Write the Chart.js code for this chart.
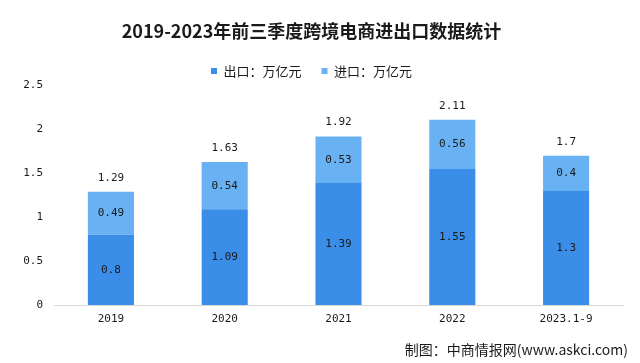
<!DOCTYPE html>
<html>
<head>
<meta charset="utf-8">
<script src="https://cdn.jsdelivr.net/npm/chart.js@4/dist/chart.umd.min.js"></script>
<style>
  html, body { margin: 0; padding: 0; background: #fff; }
  canvas { display: block; }
</style>
</head>
<body>
<canvas id="tradeChart" width="640" height="363"></canvas>
<script>
const years = ['2019', '2020', '2021', '2022', '2023.1-9'];
const exportVals = [0.8, 1.09, 1.39, 1.55, 1.3];
const importVals = [0.49, 0.54, 0.53, 0.56, 0.4];
const totals = [1.29, 1.63, 1.92, 2.11, 1.7];
const yTicks = [0, 0.5, 1, 1.5, 2, 2.5];

const numFont = '"DejaVu Sans Mono", monospace';
const cjkFont = '"Noto Sans CJK SC", sans-serif';

// legend a bit shorter than Chart.js makes it
const legendTrim = {
    id: 'legendTrim',
    beforeInit(chart) {
        const fit = chart.legend.fit;
        chart.legend.fit = function () {
            fit.call(this);
            this.height -= 2;
        };
    }
};

const barLabels = {
    id: 'barLabels',
    afterDatasetsDraw(chart) {
        const ctx = chart.ctx;
        ctx.save();
        ctx.font = '11px ' + numFont;
        ctx.fillStyle = '#1a1a1a';
        ctx.textAlign = 'center';
        ctx.textBaseline = 'middle';
        chart.data.datasets.forEach((ds, i) => {
            chart.getDatasetMeta(i).data.forEach((bar, j) => {
                ctx.fillText(String(ds.data[j]), bar.x, (bar.y + bar.base) / 2);
            });
        });
        const top = chart.getDatasetMeta(1).data;
        totals.forEach((t, j) => {
            ctx.fillText(String(t), top[j].x, top[j].y - 14);
        });
        ctx.font = '14px ' + cjkFont;
        ctx.textAlign = 'right';
        ctx.fillStyle = '#1a1a1a';
        ctx.fillText('制图：中商情报网(www.askci.com)', 628, 350);
        ctx.restore();
    }
};

const ctx = document.getElementById('tradeChart').getContext('2d');
new Chart(ctx, {
    type: 'bar',
    data: {
        labels: years,
        datasets: [{
            label: '出口：万亿元',
            data: exportVals,
            backgroundColor: '#3a8ee8',
            barPercentage: 0.405,
            categoryPercentage: 1
        }, {
            label: '进口：万亿元',
            data: importVals,
            backgroundColor: '#68b1f2',
            barPercentage: 0.405,
            categoryPercentage: 1
        }]
    },
    options: {
        responsive: false,
        animation: false,
        layout: { padding: { left: 0, right: 17, top: 0, bottom: 0 } },
        scales: {
            x: {
                stacked: true,
                grid: { display: false, drawTicks: false },
                border: { display: true, color: '#d9d9d9' },
                ticks: { padding: 8, color: '#1a1a1a', font: { family: numFont, size: 11 } },
                afterFit(scale) { scale.height = 58; }
            },
            y: {
                stacked: true,
                min: 0,
                max: 2.5,
                grid: { display: false, drawTicks: false },
                border: { display: false },
                afterBuildTicks(scale) { scale.ticks = yTicks.map(v => ({ value: v })); },
                ticks: {
                    padding: 11,
                    color: '#1a1a1a',
                    font: { family: numFont, size: 11 },
                    callback: (v) => String(v)
                },
                afterFit(scale) { scale.width = 54; }
            }
        },
        plugins: {
            title: {
                display: true,
                text: '2019-2023年前三季度跨境电商进出口数据统计',
                color: '#1a1a1a',
                font: { family: cjkFont, size: 18, weight: 'bold' },
                padding: { top: 20, bottom: 3 }
            },
            legend: {
                position: 'top',
                labels: {
                    boxWidth: 6,
                    boxHeight: 6,
                    padding: 20,
                    color: '#1a1a1a',
                    font: { family: cjkFont, size: 13 }
                }
            },
            tooltip: { enabled: false }
        }
    },
    plugins: [legendTrim, barLabels]
});
</script>
</body>
</html>
